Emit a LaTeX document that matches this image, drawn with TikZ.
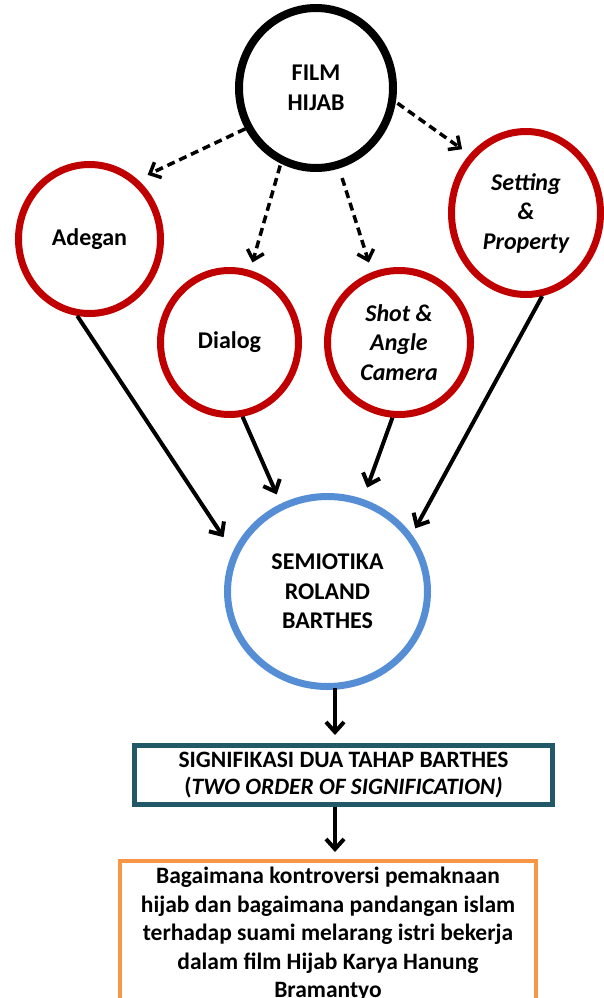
\documentclass[tikz,border=0pt]{standalone}
\usepackage{fontspec}
\setmainfont{Carlito}
\usetikzlibrary{shapes.geometric,arrows.meta}
\definecolor{cred}{HTML}{C00000}
\definecolor{cblue}{HTML}{558ED5}
\definecolor{cteal}{HTML}{215968}
\definecolor{corange}{HTML}{F79646}
\begin{document}
\begin{tikzpicture}[x=1pt,y=-1pt,
  every node/.style={font=\fontsize{24}{29.5}\selectfont\bfseries, align=center},
  circ/.style={ellipse, draw, inner sep=0pt},
  redcirc/.style={circ, draw=cred, line width=7pt},
  dasharrow/.style={line width=3.5pt, dash pattern=on 8pt off 5pt, -{Straight Barb[length=9pt,width=17pt]}},
  solidarrow/.style={line width=4pt, -{Straight Barb[length=10pt,width=18pt]}}
]
\useasboundingbox (0,0) rectangle (603,998);
\fill[white] (0,0) rectangle (603,998);

\node[circ, draw=black, line width=8pt, minimum width=154pt, minimum height=160pt] (film) at (316,88) {FILM\\HIJAB};
\node[redcirc, minimum width=142pt, minimum height=149pt] (adegan) at (89.5,239) {Adegan};
\node[redcirc, minimum width=138pt, minimum height=144pt] (dialog) at (229.5,342.5) {Dialog};
\node[redcirc, minimum width=143pt, minimum height=144pt] (shot) at (399,342.5) {\itshape Shot \&\\\itshape Angle\\\itshape Camera};
\node[redcirc, minimum width=149pt, minimum height=163pt] (setting) at (526,213) {\itshape Setting\\\itshape \&\\\itshape Property};
\node[circ, draw=cblue, line width=7pt, minimum width=200pt, minimum height=190pt] (semio) at (327.5,591.5) {SEMIOTIKA\\ROLAND\\BARTHES};

\node[draw=cteal, line width=5pt, minimum width=418pt, minimum height=59pt, inner sep=0pt,
  font=\fontsize{23.5}{27}\selectfont\bfseries] (sig) at (343.5,775)
  {SIGNIFIKASI DUA TAHAP BARTHES\\(\itshape TWO ORDER OF SIGNIFICATION)};

\node[draw=corange, line width=4pt, anchor=north, minimum width=416pt,
  inner xsep=8pt, inner ysep=6pt, font=\fontsize{23.5}{28.5}\selectfont\bfseries] (res) at (328,859)
  {Bagaimana kontroversi pemaknaan\\hijab dan bagaimana pandangan islam\\terhadap suami melarang istri bekerja\\dalam film Hijab Karya Hanung\\Bramantyo};

\draw[dasharrow, shorten >=11pt] (film.210) -- (adegan.51);
\draw[dasharrow, shorten <=2pt, shorten >=8pt] (film.245) -- (dialog.74);
\draw[dasharrow, shorten <=10pt, shorten >=10pt] (film.286) -- (shot.111);
\draw[dasharrow, shorten <=2pt, shorten >=9pt] (film.350) -- (setting.134);

\draw[solidarrow, shorten >=17pt] (adegan.261) -- (semio.157);
\draw[solidarrow, shorten >=10pt] (dialog.280) -- (semio.118);
\draw[solidarrow, shorten >=12pt] (shot.265) -- (semio.69);
\draw[solidarrow, shorten >=7pt] (setting.281) -- (semio.34);

\draw[solidarrow, shorten <=-2pt, shorten >=8pt] ([xshift=7.5pt]semio.south) -- ([xshift=-8.5pt]sig.north);
\draw[solidarrow, shorten >=7pt] ([xshift=-8.5pt]sig.south) -- ([xshift=7pt]res.north);
\end{tikzpicture}
\end{document}
